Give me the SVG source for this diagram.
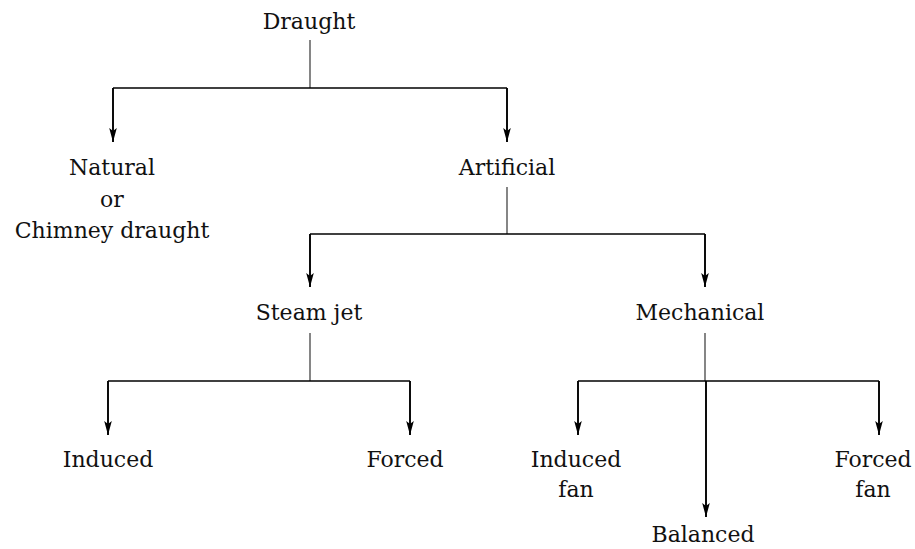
<svg xmlns="http://www.w3.org/2000/svg" width="915" height="549" viewBox="0 0 915 549">
<defs>
<style>
text{font-family:"DejaVu Serif","Liberation Serif",serif;font-size:22px;fill:#111;text-anchor:middle}
.stem{stroke:#444;stroke-width:1.3;fill:none}
.bar{stroke:#000;stroke-width:1.5;fill:none}
.arr{stroke:#000;stroke-width:1.9;fill:none;marker-end:url(#ah)}
</style>
<marker id="ah" viewBox="0 -5 15 10" markerUnits="userSpaceOnUse" markerWidth="15" markerHeight="10" refX="14" refY="0" orient="auto">
<path d="M0,-3.8 L14,0 L0,3.8 L3,0 Z" fill="#000"/>
</marker>
</defs>
<rect width="915" height="549" fill="#fff"/>
<g id="connectors">
<line class="stem" x1="310" y1="40" x2="310" y2="88"/>
<line class="bar" x1="113" y1="88" x2="507" y2="88"/>
<path class="arr" d="M113,88 V142"/>
<path class="arr" d="M507,88 V142"/>
<line class="stem" x1="507" y1="187" x2="507" y2="234"/>
<line class="bar" x1="310" y1="234" x2="705" y2="234"/>
<path class="arr" d="M310,234 V287"/>
<path class="arr" d="M705,234 V287"/>
<line class="stem" x1="310" y1="333" x2="310" y2="381"/>
<line class="bar" x1="108" y1="381" x2="410" y2="381"/>
<path class="arr" d="M108,381 V435"/>
<path class="arr" d="M410,381 V435"/>
<line class="stem" x1="705" y1="333" x2="705" y2="381"/>
<line class="bar" x1="578" y1="381" x2="879" y2="381"/>
<path class="arr" d="M578,381 V435"/>
<path class="arr" d="M879,381 V435"/>
<path class="arr" d="M706,381 V517"/>
</g>
<g id="draught"><text x="309" y="29">Draught</text></g>
<g id="natural"><text x="112" y="175">Natural</text><text x="112" y="207">or</text><text x="112" y="238">Chimney draught</text></g>
<g id="artificial"><text x="507" y="175">Artificial</text></g>
<g id="steamjet"><text x="309" y="320">Steam jet</text></g>
<g id="mechanical"><text x="700" y="320">Mechanical</text></g>
<g id="induced"><text x="108" y="467">Induced</text></g>
<g id="forced"><text x="405" y="467">Forced</text></g>
<g id="inducedfan"><text x="576" y="467">Induced</text><text x="576" y="497">fan</text></g>
<g id="forcedfan"><text x="873" y="467">Forced</text><text x="873" y="497">fan</text></g>
<g id="balanced"><text x="703" y="542">Balanced</text></g>
</svg>
